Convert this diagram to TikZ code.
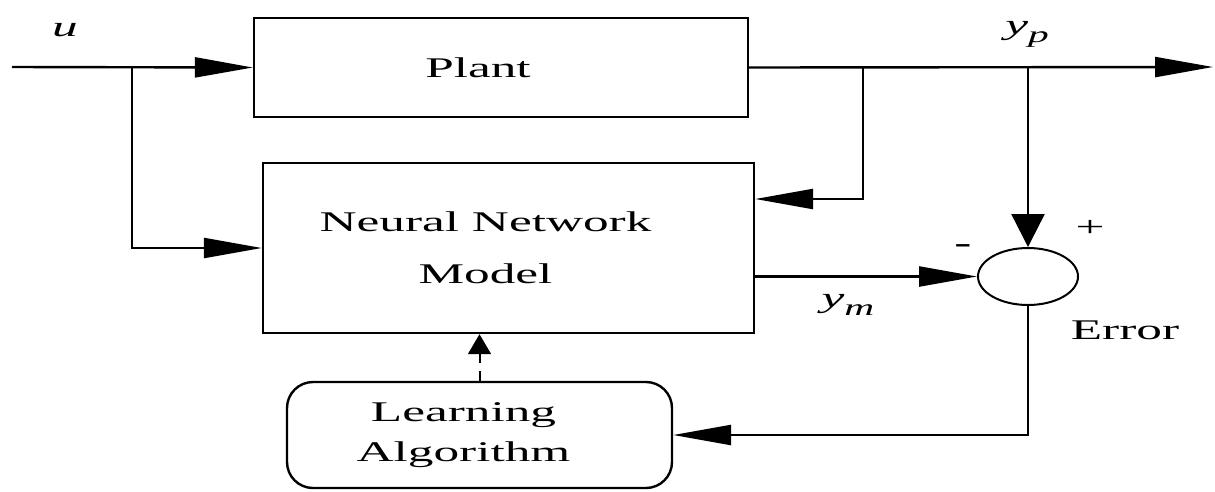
\documentclass[tikz,border=0pt]{standalone}
\usepackage{fontspec}
\setmainfont{Liberation Serif}
\usetikzlibrary{arrows.meta,shapes.geometric}
\newcommand\stretchx[1]{\scalebox{1.8}[1]{#1}}
\begin{document}
\begin{tikzpicture}[x=1pt,y=-1pt,line width=2.4pt,
  blk/.style={draw,rectangle,inner sep=0pt,align=center,font=\fontsize{28.5}{52}\selectfont},
  harr/.style={-{Triangle[length=58pt,width=20pt]}},
  varr/.style={-{Triangle[length=33pt,width=33pt]}},
  darr/.style={-{Triangle[length=20pt,width=23pt]},dash pattern=on 10pt off 8pt},
  lbl/.style={inner sep=0pt,font=\fontsize{28.5}{32}\selectfont}]
\useasboundingbox (0,0) rectangle (1215,491);

% blocks
\node[blk,minimum width=494pt,minimum height=99pt] (plant) at (501,67.5)
  {\stretchx{Plant}\hspace*{46pt}};
\node[blk,minimum width=491pt,minimum height=170pt] (nn) at (508.5,248)
  {\stretchx{Neural Network}\hspace*{46pt}\\\stretchx{Model}\hspace*{46pt}};
\node[blk,rounded corners=26pt,minimum width=385pt,minimum height=106pt,
  font=\fontsize{28.5}{40}\selectfont] (learn) at (479.5,435)
  {\stretchx{Learning}\hspace*{32pt}\\\stretchx{Algorithm}\hspace*{32pt}};
\node[draw,ellipse,inner sep=0pt,minimum width=100pt,minimum height=57pt,line width=2pt] (sum) at (1028,276.5) {};

% coordinates
\coordinate (in) at (12,67);
\coordinate (b1) at (132,67);
\coordinate (b2) at (863,67);
\coordinate (b2d) at (863,199);
\coordinate (b3) at (1028,67);
\coordinate (out) at (1213,67);

% connectors
\draw[harr] (in) -- (plant.west);
\draw[harr] (b1) |- (nn.west);
\draw[harr] (plant.east) -- (out);
\draw[harr] (b2) -- (b2d) -- (b2d -| nn.east);
\draw[varr] (b3) -- (sum.north);
\draw[harr] (nn.east |- sum.west) -- (sum.west);
\draw[harr] (sum.south) |- (learn.east);
\draw[darr,line width=2pt] (learn.north) -- (learn.north |- nn.south);

% labels
\node[lbl] (lu) at (65,30) {\stretchx{\itshape u}};
\node[lbl] (lyp) at (1027,34) {\stretchx{\itshape y\raisebox{-8pt}{\fontsize{23}{23}\selectfont p}}};
\node[lbl] (lym) at (848,305) {\stretchx{\itshape y\raisebox{-8pt}{\fontsize{23}{23}\selectfont m}}};
\node[lbl] (lminus) at (963,249) {\stretchx{\textbf{-}}};
\node[lbl] (lplus) at (1090,228) {\stretchx{+}};
\node[lbl] (lerr) at (1125,330) {\stretchx{Error}};
\end{tikzpicture}
\end{document}
